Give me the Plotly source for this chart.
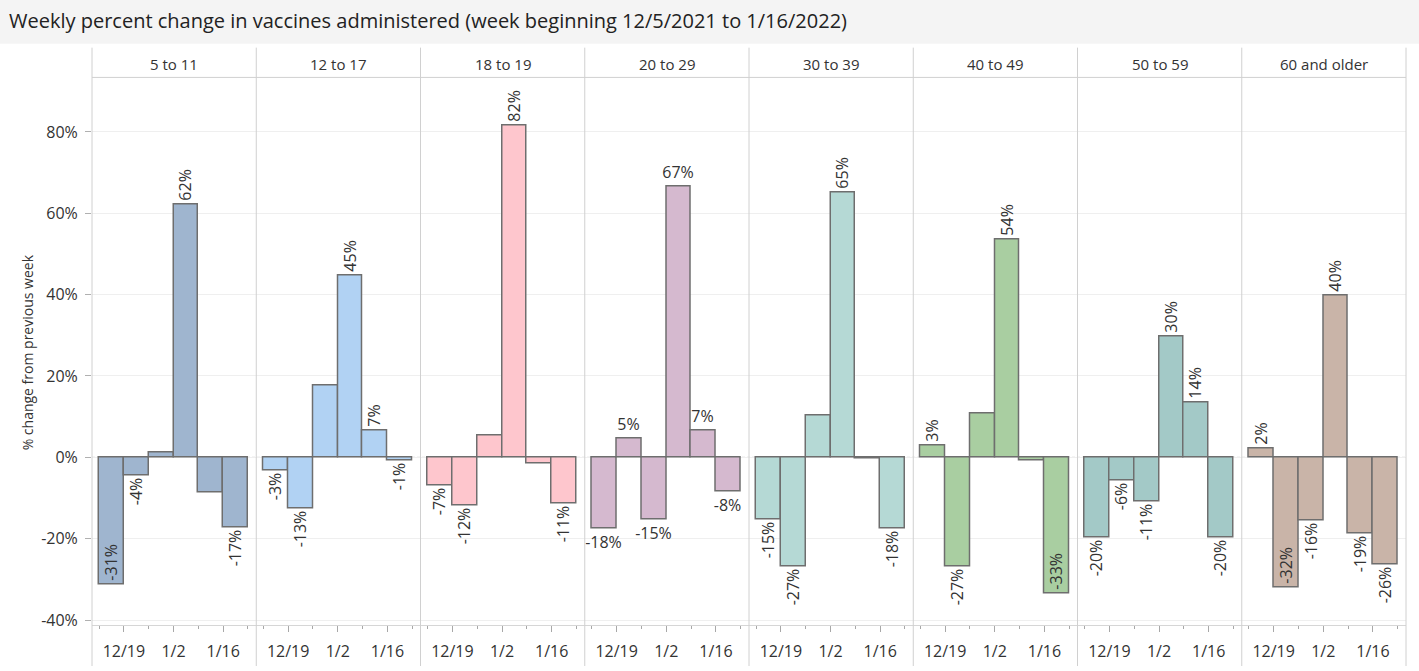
import plotly.graph_objects as go
from plotly.subplots import make_subplots

# ---------------- data ----------------
weeks = ["2021-12-12", "2021-12-19", "2021-12-26", "2022-01-02", "2022-01-09", "2022-01-16"]
groups = ["5 to 11", "12 to 17", "18 to 19", "20 to 29", "30 to 39", "40 to 49", "50 to 59", "60 and older"]

age_5_11 = [-31.3, -4.4, 1.1, 62.2, -8.7, -17.3]
age_12_17 = [-3.3, -12.6, 17.8, 44.6, 6.5, -0.8]
age_18_19 = [-6.9, -11.9, 5.3, 81.7, -1.4, -11.4]
age_20_29 = [-17.6, 4.7, -15.2, 66.7, 6.7, -8.3]
age_30_39 = [-15.3, -26.7, 10.3, 65.2, -0.3, -17.6]
age_40_49 = [2.9, -26.9, 10.7, 53.6, -0.7, -33.4]
age_50_59 = [-19.8, -5.8, -10.8, 29.8, 13.6, -19.8]
age_60_plus = [2.1, -32.0, -15.6, 39.8, -18.8, -26.3]

# which bars carry a label, and where
label_pos_5_11 = ["inside", "outside", "none", "outside", "none", "outside"]
label_pos_12_17 = ["outside", "outside", "none", "outside", "outside", "outside"]
label_pos_18_19 = ["outside", "outside", "none", "outside", "none", "outside"]
label_pos_20_29 = ["outside", "outside", "outside", "outside", "outside", "outside"]
label_pos_30_39 = ["outside", "outside", "none", "outside", "none", "outside"]
label_pos_40_49 = ["outside", "outside", "none", "outside", "none", "inside"]
label_pos_50_59 = ["outside", "outside", "outside", "outside", "outside", "outside"]
label_pos_60_plus = ["outside", "inside", "outside", "outside", "outside", "outside"]

series = [age_5_11, age_12_17, age_18_19, age_20_29, age_30_39, age_40_49, age_50_59, age_60_plus]
label_pos = [label_pos_5_11, label_pos_12_17, label_pos_18_19, label_pos_20_29,
             label_pos_30_39, label_pos_40_49, label_pos_50_59, label_pos_60_plus]
label_angle = [-90, -90, -90, 0, -90, -90, -90, -90]
colors = ["#9fb5cf", "#b1d2f3", "#fec6cd", "#d5b9cf", "#b5d9d5", "#a9cea1", "#a3c9c7", "#c9b4a8"]

y_tickvals = [-40, -20, 0, 20, 40, 60, 80]
y_ticktext = ["-40%", "-20%", "0%", "20%", "40%", "60%", "80%"]
x_major = ["2021-12-19", "2022-01-02", "2022-01-16"]
x_major_text = ["12/19", "1/2", "1/16"]
x_minor = ["2021-12-12", "2021-12-26", "2022-01-09", "2022-01-23"]

title = "Weekly percent change in vaccines administered (week beginning 12/5/2021 to 1/16/2022)"
y_title = "% change from previous week"

# ---------------- layout constants ----------------
W, H = 1419, 671
FONT = "Open Sans"
TXT = "#333333"
left, right = 92, 1406
top, bottom = 78, 630
pw = (right - left) / len(groups)
WEEK_MS = 7 * 24 * 3600 * 1000

fig = make_subplots(rows=1, cols=len(groups), shared_yaxes=True, horizontal_spacing=0)

for i, (g, vals) in enumerate(zip(groups, series)):
    fig.add_trace(go.Bar(
        x=weeks, y=vals, width=[WEEK_MS] * len(weeks), offset=0,
        marker=dict(color=colors[i], line=dict(color="#6e6e6e", width=1.5)),
        texttemplate="%{y:.0f}%", textposition=label_pos[i], textangle=label_angle[i],
        insidetextanchor="end", constraintext="none", cliponaxis=False,
        textfont=dict(family=FONT, size=16, color=TXT),
        insidetextfont=dict(family=FONT, size=16, color=TXT),
        outsidetextfont=dict(family=FONT, size=16, color=TXT),
        showlegend=False, name=g, hoverinfo="x+y",
    ), row=1, col=i + 1)

    ax = "xaxis" if i == 0 else f"xaxis{i + 1}"
    fig.layout[ax].update(
        domain=[(left + pw * i) / W, (left + pw * (i + 1)) / W],
        type="date", range=["2021-12-10T00:00", "2022-01-25T08:00"],
        tickmode="array", tickvals=x_major, ticktext=x_major_text,
        ticks="outside", ticklen=6, tickwidth=1, tickcolor="#a8a8a8",
        minor=dict(tickmode="array", tickvals=x_minor, ticks="outside", ticklen=3,
                   tickcolor="#a8a8a8", showgrid=False),
        showgrid=False, showline=True, linecolor="#d6d6d6", linewidth=1,
        zeroline=False, fixedrange=True,
        tickfont=dict(family=FONT, size=16, color=TXT), ticklabelstandoff=5,
    )

for i in range(len(groups)):
    ay = "yaxis" if i == 0 else f"yaxis{i + 1}"
    fig.layout[ay].update(
        domain=[(H - bottom) / H, (H - top) / H],
        range=[-41.3, 93.4], tickmode="array", tickvals=y_tickvals, ticktext=y_ticktext,
        showgrid=True, gridcolor="#efefef", gridwidth=1, zeroline=False,
        showline=False, fixedrange=True,
        tickfont=dict(family=FONT, size=16, color=TXT),
    )
fig.layout["yaxis"].update(ticks="outside", ticklen=6, tickcolor="#b0b0b0", ticklabelstandoff=4)

shapes = []
# title band
shapes.append(dict(type="rect", xref="paper", yref="paper", x0=0, x1=1,
                   y0=1 - 44 / H, y1=1, fillcolor="#f4f4f4", line=dict(width=0), layer="below"))
# zero line (dashed)
shapes.append(dict(type="line", xref="paper", yref="y", x0=left / W, x1=right / W, y0=0, y1=0,
                   line=dict(color="#c4c4c4", width=1, dash="3px,2px"), layer="below"))
# header bottom rule
shapes.append(dict(type="line", xref="paper", yref="paper", x0=left / W, x1=right / W,
                   y0=1 - top / H, y1=1 - top / H, line=dict(color="#d0d0d0", width=1)))
# panel separators
for k in range(len(groups) + 1):
    xk = (left + pw * k) / W
    shapes.append(dict(type="line", xref="paper", yref="paper", x0=xk, x1=xk,
                       y0=0, y1=1 - 48 / H, line=dict(color="#d0d0d0", width=1)))

annotations = [
    dict(text=title, x=7 / W, y=1 - 21 / H, xref="paper", yref="paper", xanchor="left",
         yanchor="middle", showarrow=False, font=dict(family=FONT, size=20, color="#222222")),
    dict(text=y_title, x=27 / W, y=1 - 355 / H, xref="paper", yref="paper", textangle=-90,
         xanchor="center", yanchor="middle", showarrow=False,
         font=dict(family=FONT, size=14, color=TXT)),
]
for i, g in enumerate(groups):
    annotations.append(dict(text=g, x=(left + pw * (i + 0.5)) / W, y=1 - 64 / H, xref="paper",
                            yref="paper", xanchor="center", yanchor="middle", showarrow=False,
                            font=dict(family=FONT, size=15, color=TXT)))

fig.update_layout(
    width=W, height=H, margin=dict(l=0, r=0, t=0, b=0),
    paper_bgcolor="white", plot_bgcolor="white",
    shapes=shapes, annotations=annotations, bargap=0,
    font=dict(family=FONT, size=15, color=TXT),
)

fig.write_html("out.html", config={"displayModeBar": False},
               post_script="document.body.style.margin='0';document.body.style.overflow='hidden';")
